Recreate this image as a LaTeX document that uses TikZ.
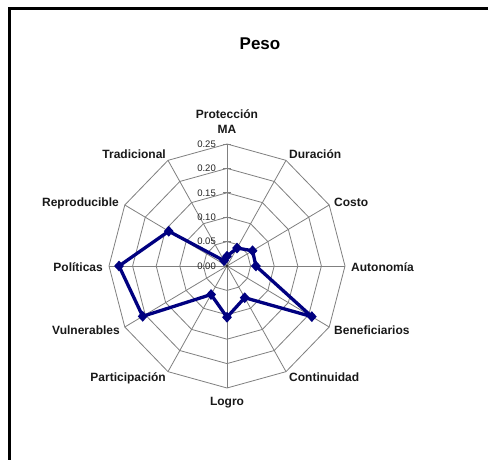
\documentclass[tikz,border=0pt]{standalone}
\usepackage{fontspec}
\setmainfont{Liberation Sans}
\usetikzlibrary{shapes.geometric}
\definecolor{navy}{RGB}{0,0,128}
\definecolor{gridgray}{RGB}{128,128,128}
\tikzset{
  gridline/.style={draw=gridgray, line width=0.8pt},
  dataline/.style={draw=navy, line width=3.3pt, line join=round},
  marker/.style={diamond, fill=navy, draw=none, inner sep=0pt, minimum width=10pt, minimum height=11pt},
  axislabel/.style={font=\fontsize{12}{14}\selectfont\bfseries, inner sep=0pt, text=black!90},
  ticklabel/.style={font=\fontsize{9.5}{10}\selectfont, inner sep=0pt, anchor=east, text=black!85},
  titletext/.style={font=\fontsize{17}{19}\selectfont\bfseries, inner sep=0pt}
}
\begin{document}
\begin{tikzpicture}[x=1pt,y=-1pt]
\useasboundingbox (0,0) rectangle (488,460);
\fill[white] (0,0) rectangle (488,460);
\clip (0,0) rectangle (488,460);
% frame
\draw[line width=3pt] (9,480) -- (9,9) -- (500,9);
% title
\node[titletext, anchor=base] (title) at (260,50) {Peso};
\begin{scope}[shift={(227,266)}]
\begin{scope}[x=118pt,y=122pt]
  \coordinate (O) at (0,0);
  % spokes
  \foreach \a in {0,30,...,330} \draw[gridline] (O) -- (\a:1);
  % rings
  \foreach \k in {1,...,5} {
    \pgfmathsetmacro{\r}{\k/5}
    \draw[gridline] (0:\r) \foreach \a in {30,60,...,330}{ -- (\a:\r)} -- cycle;
  }
  % ticks on the vertical axis
  \foreach \k in {0,...,5} {
    \pgfmathsetmacro{\r}{\k/5}
    \draw[gridline] ([xshift=-4pt]90:\r) -- ([xshift=4pt]90:\r);
  }
  \fill[black!80] (O) circle[radius=1.6pt];
  % tick labels
  \node[ticklabel] (t0) at ([xshift=-11pt]90:0) {0.00};
  \node[ticklabel] (t1) at ([xshift=-11pt]90:0.2) {0.05};
  \node[ticklabel] (t2) at ([xshift=-11pt]90:0.4) {0.10};
  \node[ticklabel] (t3) at ([xshift=-11pt]90:0.6) {0.15};
  \node[ticklabel] (t4) at ([xshift=-11pt]90:0.8) {0.20};
  \node[ticklabel] (t5) at ([xshift=-11pt]90:1) {0.25};
  % data points
  \coordinate (p1) at (90:0.08);
  \coordinate (p2) at (60:0.17);
  \coordinate (p3) at (30:0.25);
  \coordinate (p4) at (0:0.245);
  \coordinate (p5) at (-30:0.83);
  \coordinate (p6) at (-60:0.30);
  \coordinate (p7) at (-90:0.42);
  \coordinate (p8) at (-120:0.27);
  \coordinate (p9) at (-150:0.825);
  \coordinate (p10) at (180:0.915);
  \coordinate (p11) at (150:0.57);
  \coordinate (p12) at (120:0.05);
  \draw[dataline] (p1) -- (p2) -- (p3) -- (p4) -- (p5) -- (p6) -- (p7) -- (p8) -- (p9) -- (p10) -- (p11) -- (p12) -- cycle;
  \foreach \i in {1,...,12} \node[marker] (m\i) at (p\i) {};
\end{scope}
\end{scope}
% axis labels
\node[axislabel, anchor=base] (lprot) at (227,119) {Protección};
\node[axislabel, anchor=base] (lma) at (227,133) {MA};
\node[axislabel, anchor=base west] (ldur) at (289,159) {Duración};
\node[axislabel, anchor=base west] (lcos) at (334,206) {Costo};
\node[axislabel, anchor=base west] (laut) at (351,271) {Autonomía};
\node[axislabel, anchor=base west] (lben) at (334,334) {Beneficiarios};
\node[axislabel, anchor=base west] (lcon) at (289,381) {Continuidad};
\node[axislabel, anchor=base] (llog) at (227,405) {Logro};
\node[axislabel, anchor=base east] (lpar) at (166,381) {Participación};
\node[axislabel, anchor=base east] (lvul) at (120,334) {Vulnerables};
\node[axislabel, anchor=base east] (lpol) at (103,271) {Políticas};
\node[axislabel, anchor=base east] (lrep) at (119,206) {Reproducible};
\node[axislabel, anchor=base east] (ltra) at (166,158) {Tradicional};
\end{tikzpicture}
\end{document}
